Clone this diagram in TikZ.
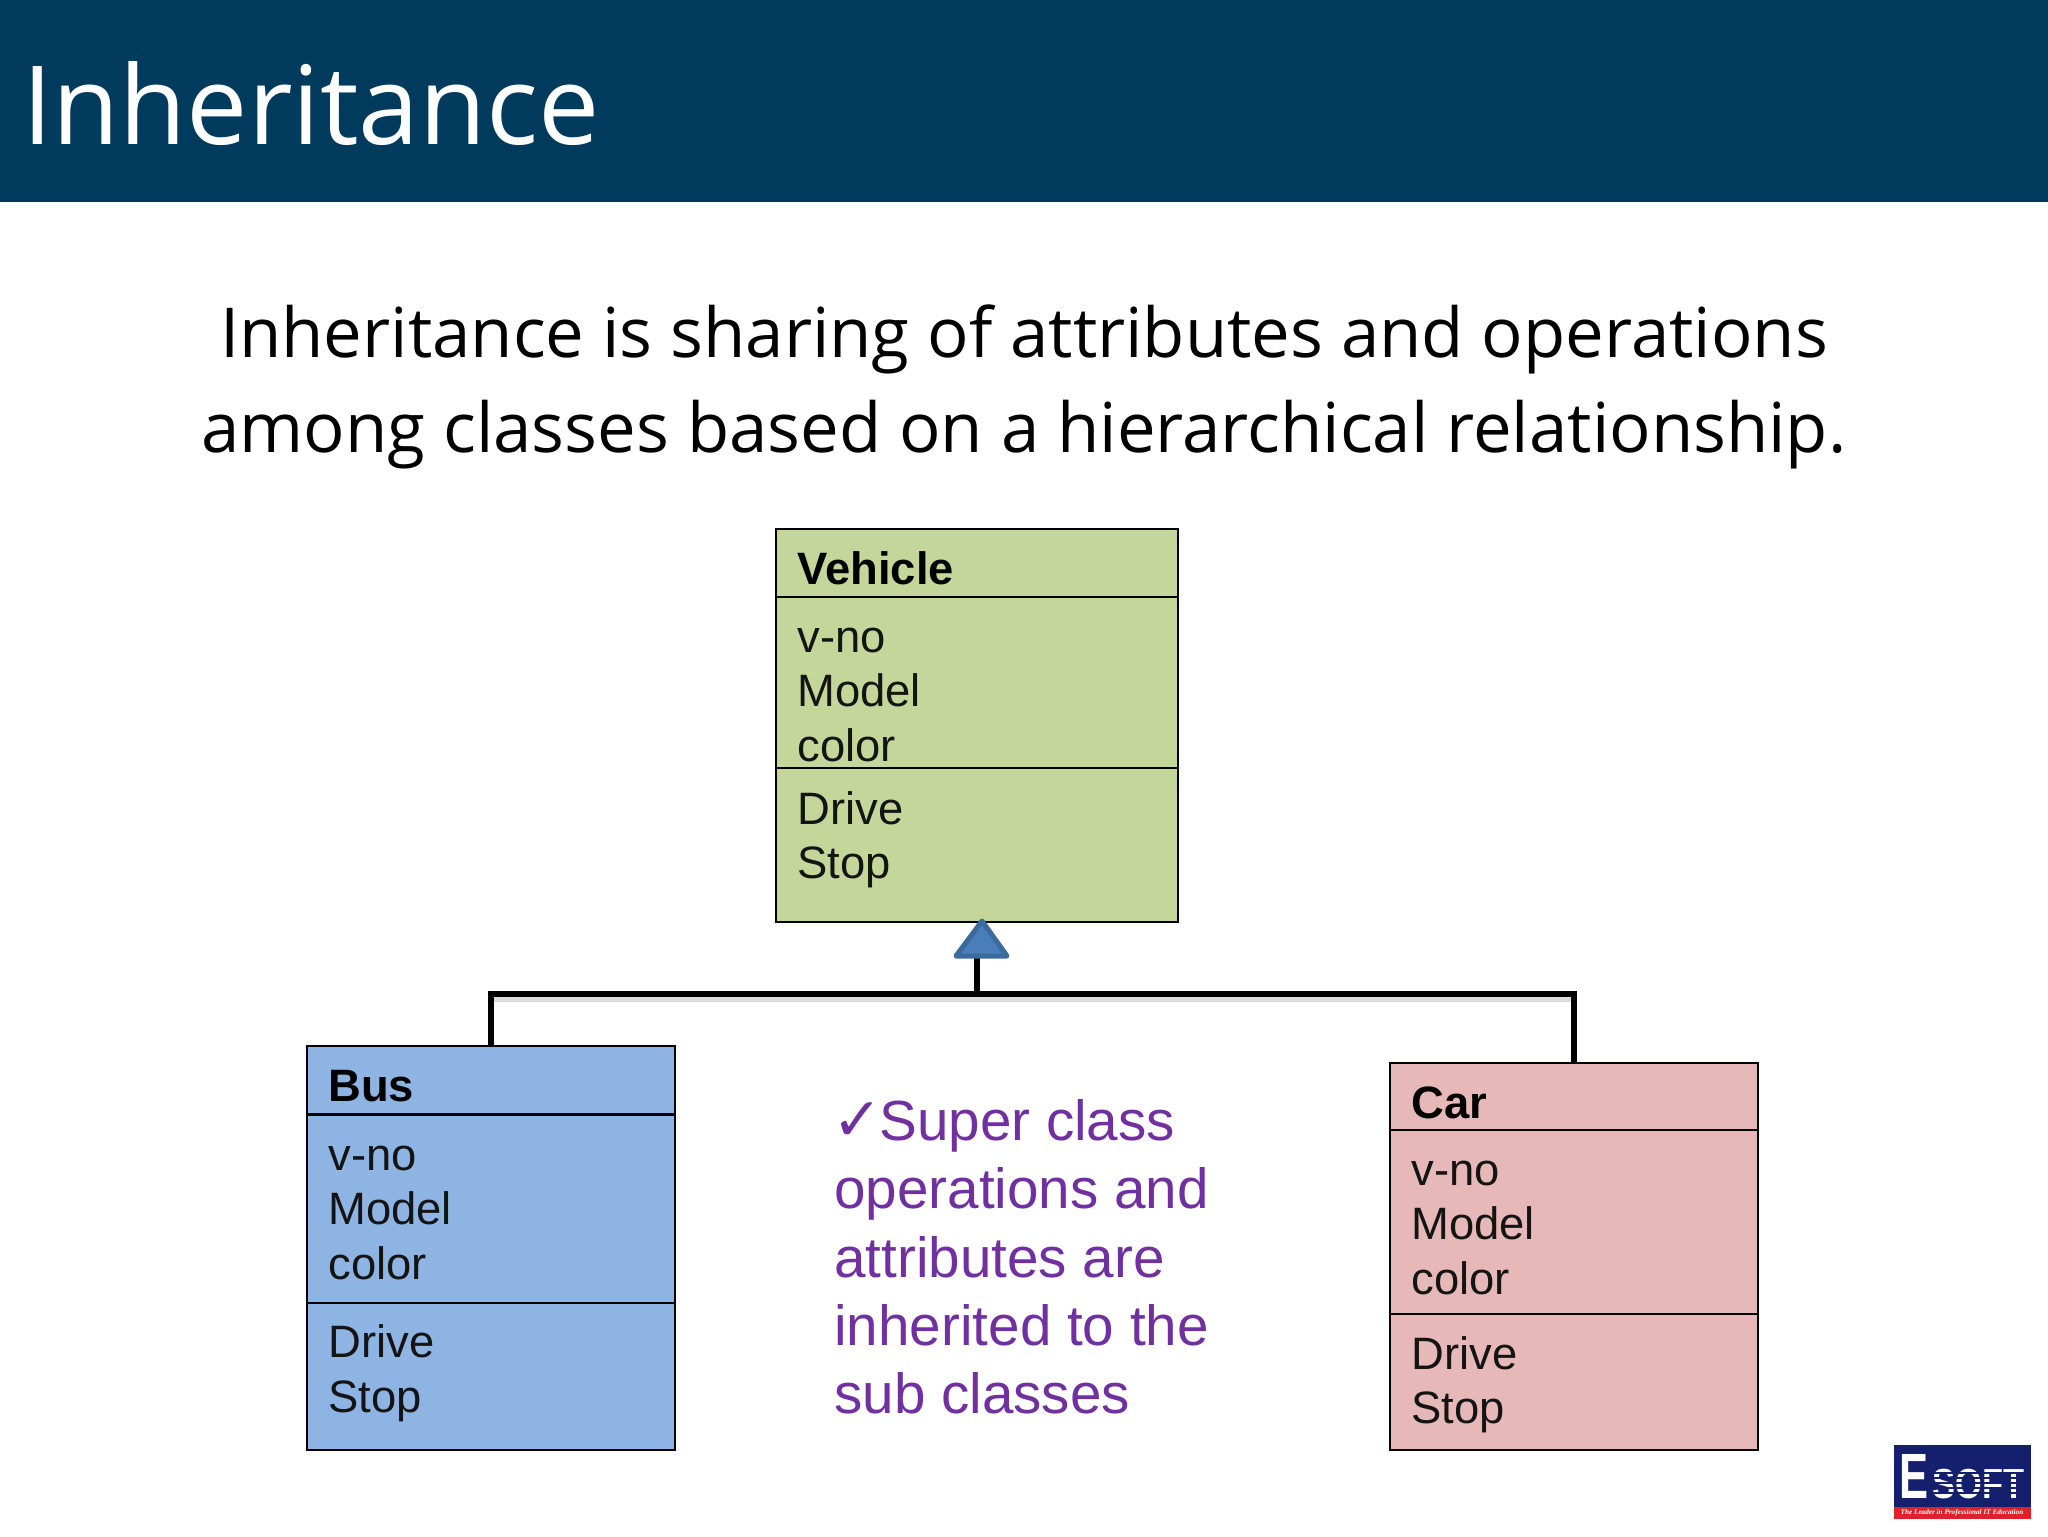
\documentclass[tikz,border=0pt]{standalone}
\usepackage{fontspec}
\usepackage{graphicx}
\setmainfont{Liberation Sans}
\newfontfamily\headfont{Open Sans}
\newfontfamily\checkfont{DejaVu Sans}
\newfontfamily\logoserif{Liberation Serif}
\definecolor{headblue}{HTML}{003A5C}
\definecolor{vgreen}{HTML}{C5D69B}
\definecolor{bblue}{HTML}{8EB4E3}
\definecolor{cpink}{HTML}{E6B9B8}
\definecolor{tfill}{HTML}{4A7EBB}
\definecolor{tline}{HTML}{3B6A9C}
\definecolor{purp}{HTML}{7030A0}
\definecolor{lnavy}{HTML}{14206E}
\definecolor{lred}{HTML}{E0202A}
\tikzset{
  x=0.5pt,y=-0.5pt,
  cbox/.style={draw=black,line width=1pt,inner sep=0pt,outer sep=0pt,anchor=north west},
  boxtxt/.style={inner sep=0pt,anchor=base west,font=\fontsize{22.7}{26}\selectfont,text=black!92},
  boxhead/.style={boxtxt,font=\fontsize{22.7}{26}\selectfont\bfseries,text=black},
  purptxt/.style={inner sep=0pt,anchor=base west,font=\fontsize{28.3}{32}\selectfont,text=purp},
  bodytxt/.style={inner sep=0pt,anchor=base,font=\headfont\fontsize{34.45}{40}\selectfont,text=black},
  conn/.style={draw=black,line width=3pt,line cap=butt,line join=miter},
  connshadow/.style={draw=black!14,line width=3pt,transform canvas={yshift=-2.5pt}},
}
\newcommand{\cboxat}[6]{% name, x1, y1, x2, y2, colour
  \node[cbox,fill=#6,minimum width=(#4-#2)*0.5pt,minimum height=(#5-#3)*0.5pt] (#1) at (#2,#3) {};}
\begin{document}
\begin{tikzpicture}
\useasboundingbox (0,0) rectangle (2048,1536);
\fill[white] (0,0) rectangle (2048,1536);
% header
\fill[headblue] (0,0) rectangle (2048,202);
\node[inner sep=0pt,anchor=base west,font=\headfont\fontsize{54.6}{60}\selectfont,text=white] (title) at (22,144) {Inheritance};
% statement
\node[bodytxt] (s1) at (1024,357) {Inheritance is sharing of attributes and operations};
\node[bodytxt] (s2) at (1024,452) {among classes based on a hierarchical relationship.};
% Vehicle
\cboxat{vh}{776}{529}{1178}{597}{vgreen}
\cboxat{va}{776}{597}{1178}{768}{vgreen}
\cboxat{vo}{776}{768}{1178}{922}{vgreen}
\node[boxhead] (vt) at (797,584) {Vehicle};
\node[boxtxt] (v1) at (797,652) {v-no};
\node[boxtxt] (v2) at (797,706) {Model};
\node[boxtxt] (v3) at (797,761) {color};
\node[boxtxt] (v4) at (797,824) {Drive};
\node[boxtxt] (v5) at (797,878) {Stop};
% Bus
\cboxat{bh}{307}{1046}{675}{1114}{bblue}
\cboxat{ba}{307}{1114}{675}{1303}{bblue}
\cboxat{bo}{307}{1303}{675}{1450}{bblue}
\draw[line width=1.5pt] (bh.south west) -- (bh.south east);
\node[boxhead] (bt) at (328,1101) {Bus};
\node[boxtxt] (b1) at (328,1170) {v-no};
\node[boxtxt] (b2) at (328,1224) {Model};
\node[boxtxt] (b3) at (328,1279) {color};
\node[boxtxt] (b4) at (328,1357) {Drive};
\node[boxtxt] (b5) at (328,1412) {Stop};
% Car
\cboxat{ch}{1390}{1063}{1758}{1130}{cpink}
\cboxat{ca}{1390}{1130}{1758}{1314}{cpink}
\cboxat{co}{1390}{1314}{1758}{1450}{cpink}
\node[boxhead] (ct) at (1411,1118) {Car};
\node[boxtxt] (c1) at (1411,1185) {v-no};
\node[boxtxt] (c2) at (1411,1239) {Model};
\node[boxtxt] (c3) at (1411,1294) {color};
\node[boxtxt] (c4) at (1411,1369) {Drive};
\node[boxtxt] (c5) at (1411,1423) {Stop};
% connectors
\coordinate (junc) at (977,994);
\coordinate (tribase) at (977,957);
\draw[connshadow] (bh.north |- junc) -- (ch.north |- junc);
\draw[conn] (bh.north) |- (junc);
\draw[conn] (ch.north) |- (junc);
\draw[conn] (junc) -- (tribase);
\draw[tline,fill=tfill,line width=2.5pt,line join=round] (982,921) -- (1007,956) -- (956,956) -- cycle;
% purple text
\node[purptxt,font=\checkfont\fontsize{30}{32}\selectfont] (chk) at (832,1140) {✓};
\node[purptxt] (p1) at (879,1140) {Super class};
\node[purptxt] (p2) at (834,1208) {operations and};
\node[purptxt] (p3) at (834,1277) {attributes are};
\node[purptxt] (p4) at (834,1345) {inherited to the};
\node[purptxt] (p5) at (834,1413) {sub classes};
% logo
\fill[lnavy] (1894,1445) rectangle (2031,1519);
\fill[lred] (1894,1507) rectangle (2031,1519);
\node[inner sep=0pt,anchor=base west,font=\fontsize{32}{34}\selectfont\bfseries,text=white] (logoe) at (1899,1498) {\scalebox{0.68}[1]{E}};
\node[inner sep=0pt,anchor=base west,font=\fontsize{21}{23}\selectfont\bfseries,text=white] (logos) at (1932,1498) {\scalebox{0.82}[1]{SOFT}};
\foreach \yy in {1472,1477,1482,1487,1492}{\fill[lnavy] (1932,\yy) rectangle (2028,\yy+1.5);}
\node[inner sep=0pt,anchor=center,font=\logoserif\fontsize{3.6}{4}\selectfont\itshape\bfseries,text=white] (logot) at (1962,1513) {The Leader in Professional IT Education};
\end{tikzpicture}
\end{document}
